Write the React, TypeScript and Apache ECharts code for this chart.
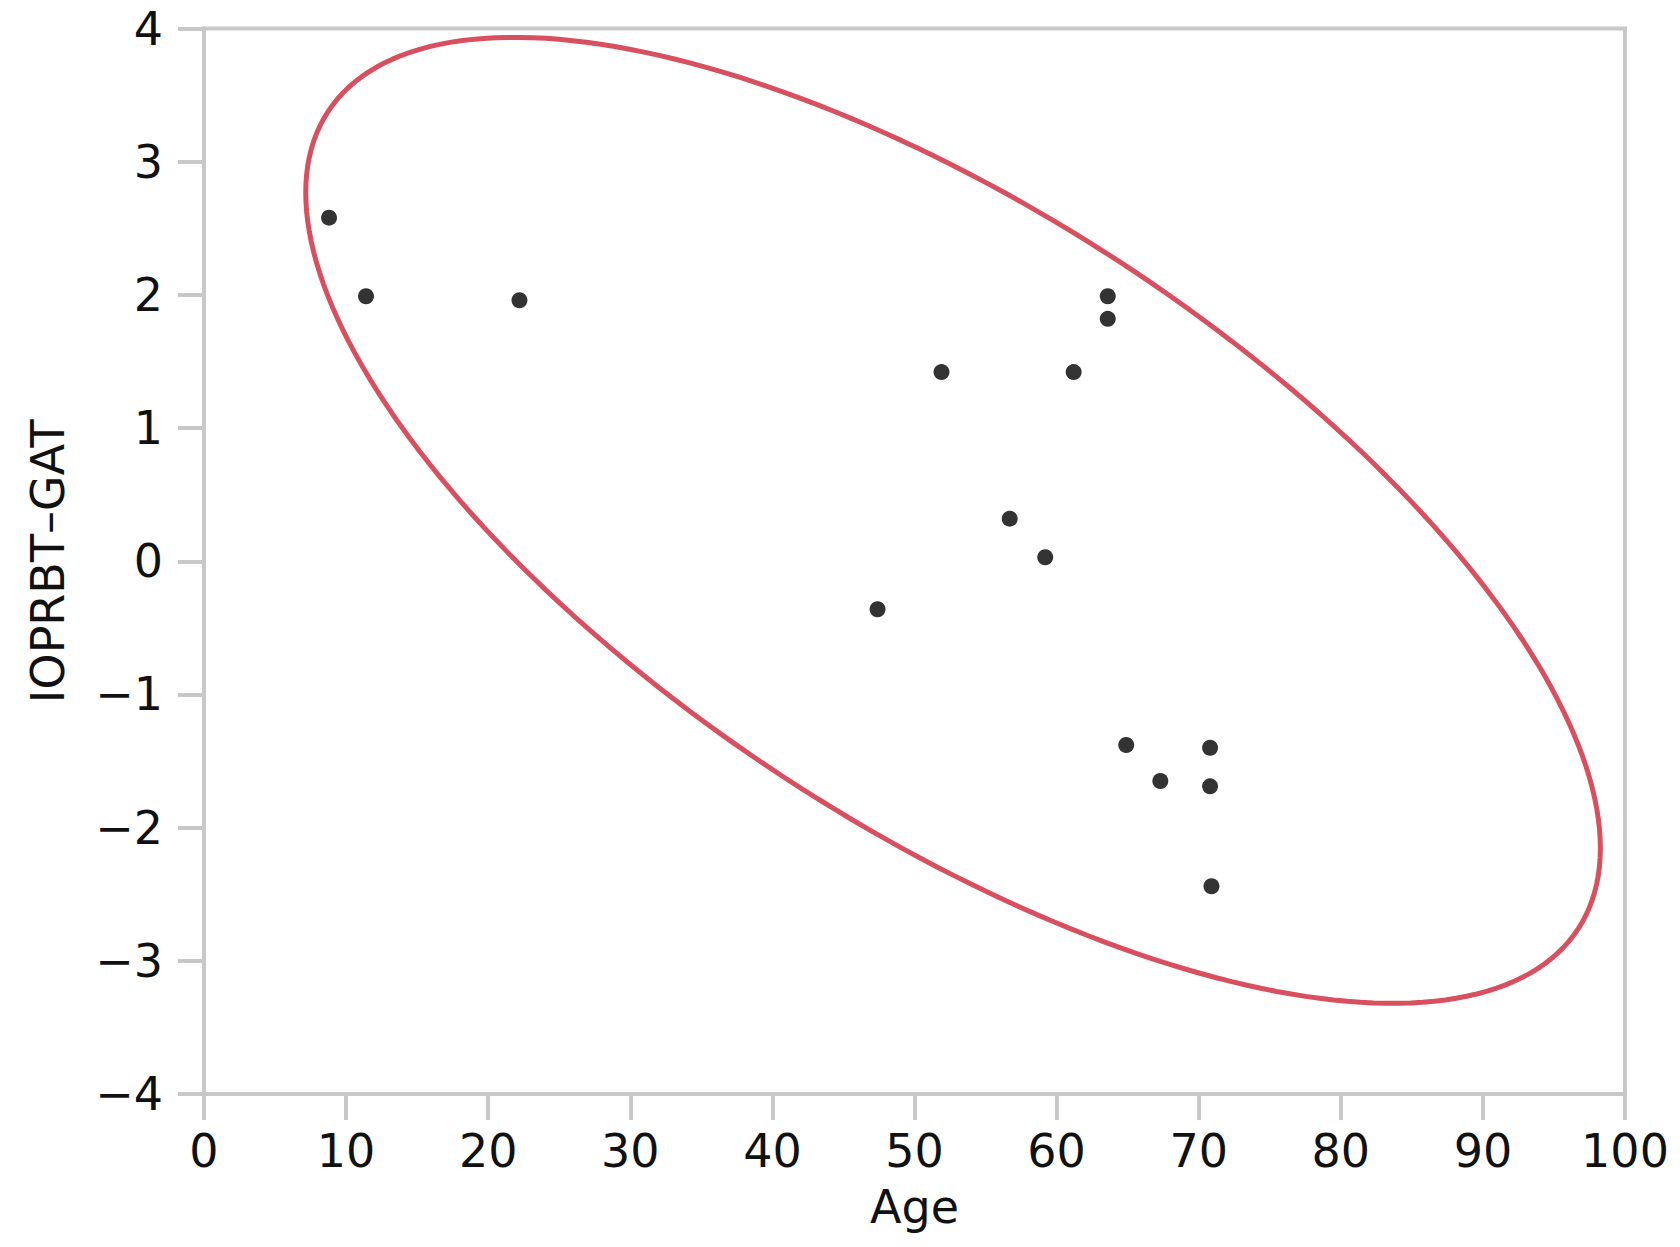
import React, { useEffect, useRef } from "react";
import * as echarts from "echarts";

// Data (Age vs IOPRBT–GAT)
const ages: number[] = [8.8, 11.4, 22.2, 51.9, 61.2, 63.6, 63.6, 56.7, 59.2, 47.4, 64.9, 70.8, 67.3, 70.8, 70.9];
const iopValues: number[] = [2.58, 1.99, 1.96, 1.42, 1.42, 1.99, 1.82, 0.32, 0.03, -0.36, -1.38, -1.40, -1.65, -1.69, -2.44];

const xTicks = { min: 0, max: 100, interval: 10 };
const yTicks = { min: -4, max: 4, interval: 1 };
const ellipseLevel = 0.9; // density ellipse coverage

const xName = "Age";
const yName = "IOPRBT\u2013GAT";

// Bivariate normal density ellipse derived from the data (mean + covariance)
function densityEllipse(xs: number[], ys: number[], level: number, steps = 240): number[][] {
  const n = xs.length;
  const mx = xs.reduce((a, b) => a + b, 0) / n;
  const my = ys.reduce((a, b) => a + b, 0) / n;
  let sxx = 0, syy = 0, sxy = 0;
  for (let i = 0; i < n; i++) {
    const dx = xs[i] - mx, dy = ys[i] - my;
    sxx += dx * dx; syy += dy * dy; sxy += dx * dy;
  }
  sxx /= n - 1; syy /= n - 1; sxy /= n - 1;
  const k = Math.sqrt(-2 * Math.log(1 - level));
  const a = Math.sqrt(sxx);
  const b = sxy / a;
  const c = Math.sqrt(Math.max(syy - b * b, 0));
  const pts: number[][] = [];
  for (let i = 0; i <= steps; i++) {
    const t = (i / steps) * Math.PI * 2;
    const u = Math.cos(t), v = Math.sin(t);
    pts.push([mx + k * a * u, my + k * (b * u + c * v)]);
  }
  return pts;
}

export default function App() {
  const ref = useRef<HTMLDivElement>(null);
  useEffect(() => {
    if (!ref.current) return;
    const chart = echarts.init(ref.current, undefined, { renderer: "svg" });
    const font = "DejaVu Sans";
    const gray = "#c8c8c8";
    chart.setOption({
      animation: false,
      backgroundColor: "#ffffff",
      grid: {
        left: 204,
        right: 55,
        top: 28.5,
        bottom: 153,
        show: true,
        borderColor: gray,
        borderWidth: 4,
        backgroundColor: "transparent",
      },
      xAxis: {
        type: "value",
        min: xTicks.min,
        max: xTicks.max,
        interval: xTicks.interval,
        name: xName,
        nameLocation: "middle",
        nameGap: 90,
        nameTextStyle: { fontFamily: font, fontSize: 46, color: "#111" },
        axisLine: { show: true, onZero: false, lineStyle: { color: gray, width: 4 } },
        axisTick: { show: true, length: 26, lineStyle: { color: gray, width: 4 } },
        axisLabel: { fontFamily: font, fontSize: 46, color: "#111", margin: 34 },
        splitLine: { show: false },
      },
      yAxis: {
        type: "value",
        min: yTicks.min,
        max: yTicks.max,
        interval: yTicks.interval,
        name: yName,
        nameLocation: "middle",
        nameGap: 133,
        nameTextStyle: { fontFamily: font, fontSize: 46, color: "#111" },
        axisLine: { show: true, onZero: false, lineStyle: { color: gray, width: 4 } },
        axisTick: { show: true, length: 26, lineStyle: { color: gray, width: 4 } },
        axisLabel: {
          fontFamily: font,
          fontSize: 46,
          color: "#111",
          margin: 41,
          formatter: (v: number) => (v < 0 ? "\u2212" + Math.abs(v) : String(v)),
        },
        splitLine: { show: false },
      },
      series: [
        {
          type: "line",
          data: densityEllipse(ages, iopValues, ellipseLevel),
          showSymbol: false,
          smooth: false,
          lineStyle: { color: "#d8505f", width: 5 },
          silent: true,
          z: 2,
        },
        {
          type: "scatter",
          data: ages.map((a, i) => [a, iopValues[i]]),
          symbol: "circle",
          symbolSize: 16,
          itemStyle: { color: "#000000" },
          z: 3,
        },
      ],
    });
    return () => chart.dispose();
  }, []);
  return (
    <div
      ref={ref}
      style={{ position: "fixed", left: 0, top: 0, width: 1680, height: 1247, background: "#fff" }}
    />
  );
}
